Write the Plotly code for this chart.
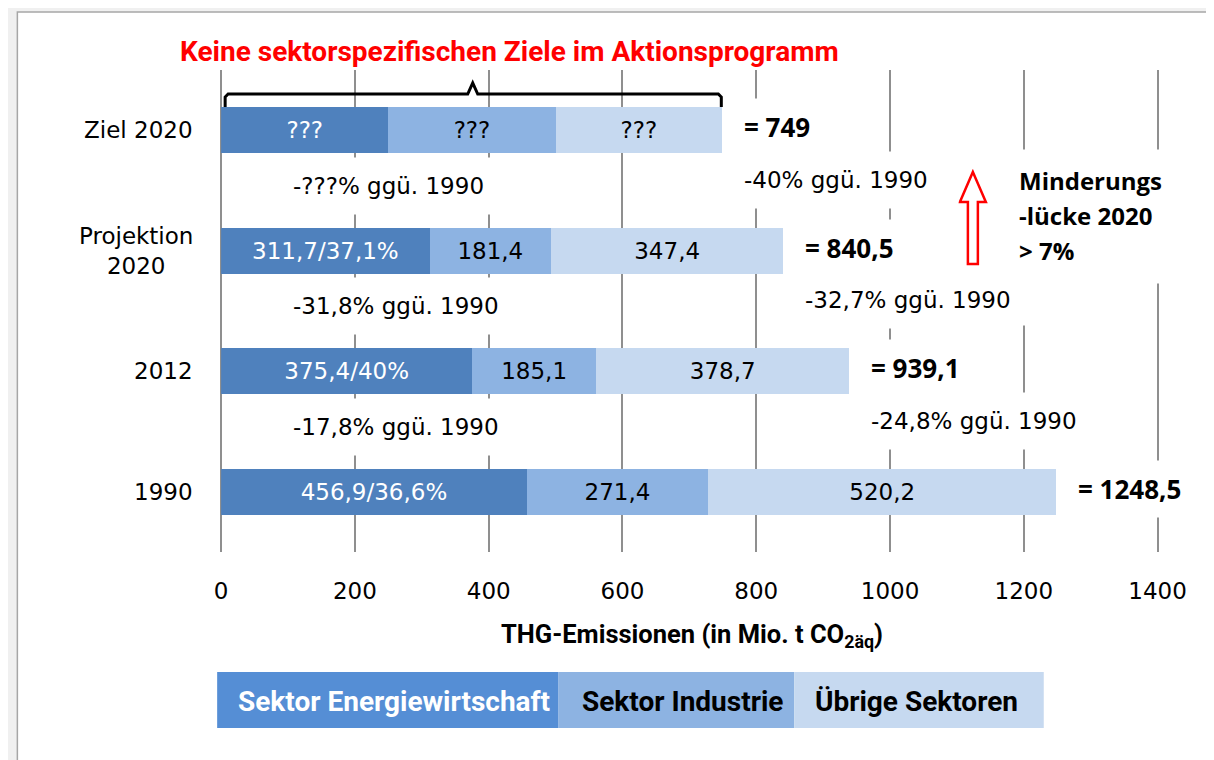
import plotly.graph_objects as go

# ---------------- data ----------------
categories = ["1990", "2012", "Projektion<br>2020", "Ziel 2020"]
energie = [456.9, 375.4, 311.7, 250.0]      # Ziel split unknown ("???"), estimated from bar
industrie = [271.4, 185.1, 181.4, 250.0]
uebrige = [520.2, 378.7, 347.4, 249.0]
totals = [1248.5, 939.1, 840.5, 749.0]
energie_share = [36.6, 40.0, 37.1, None]
change_total = [None, -24.8, -32.7, -40.0]      # total vs. 1990 (%)
change_energie = [None, -17.8, -31.8, None]     # energy sector vs. 1990 (%)
unknown_split = [False, False, False, True]
series_names = ["Sektor Energiewirtschaft", "Sektor Industrie", "Übrige Sektoren"]
x_ticks = [0, 200, 400, 600, 800, 1000, 1200, 1400]
title_text = "Keine sektorspezifischen Ziele im Aktionsprogramm"
gap_text = ["Minderungs", "-lücke 2020", "> 7%"]

# ---------------- style ----------------
W, H = 1214, 760
# the page renders the figure 1183 px wide, offset (15.5, 8) on screen
SW, SX0, SY0 = 1183.0, 15.5, 8.0
FONT = "DejaVu Sans"
FONT_B = "Open Sans"
FONT_C = "Roboto"
C_DARK, C_MID, C_LIGHT = "#4F81BD", "#8DB3E2", "#C6D9F0"
C_LEG_DARK = "#558ED5"
X_MAX = 1405.0                 # slightly past 1400 so the 1400 gridline is not clipped
PX_PER_UNIT = (1160 - 222) / 1400.0


def PX(x):
    return (x - SX0) / SW


def PY(y):
    return 1 - (y - SY0) / H


def de(v):
    s = f"{v:.1f}"
    if s.endswith(".0"):
        s = s[:-2]
    return s.replace(".", ",")


txt_e = ["???" if u else f"{de(v)}/{de(s)}%" for v, s, u in zip(energie, energie_share, unknown_split)]
txt_i = ["???" if u else de(v) for v, u in zip(industrie, unknown_split)]
txt_u = ["???" if u else de(v) for v, u in zip(uebrige, unknown_split)]

fig = go.Figure()
for vals, txt, col, tcol, name in [
    (energie, txt_e, C_DARK, "white", series_names[0]),
    (industrie, txt_i, C_MID, "black", series_names[1]),
    (uebrige, txt_u, C_LIGHT, "black", series_names[2]),
]:
    fig.add_trace(go.Bar(
        y=categories, x=vals, orientation="h", name=name,
        marker=dict(color=col, line=dict(width=0)),
        text=txt, textposition="inside", insidetextanchor="middle",
        textangle=0, constraintext="none",
        textfont=dict(family=FONT, size=23, color=tcol),
        width=0.385, showlegend=False, hoverinfo="skip",
    ))

ann = []
# white text-box area of the Minderungslücke note (interrupts the gridlines)
ann.append(dict(x=PX(1012), xref="paper", y=PY(149), yref="paper", text=" ", showarrow=False,
                xanchor="left", yanchor="top", width=173, height=133, bgcolor="white", borderpad=0))
ann.append(dict(x=PX(1012), xref="paper", y=PY(280), yref="paper", text=" ", showarrow=False,
                xanchor="left", yanchor="top", width=28, height=44, bgcolor="white", borderpad=0))

# category labels
for i, c in enumerate(categories):
    ann.append(dict(x=PX(196), xref="paper", y=i, yref="y", text=c, showarrow=False,
                    xanchor="right", align="center", font=dict(family=FONT, size=23, color="black")))

# totals
for i, t in enumerate(totals):
    ann.append(dict(x=t, xref="x", y=i, yref="y", text="= " + de(t), showarrow=False,
                    xanchor="left", xshift=21, yshift=3, align="left", valign="middle",
                    width=125, height=56, bgcolor="white", borderpad=0,
                    font=dict(family=FONT_B, size=26, color="black", weight="bold")))

# change vs 1990 (right: total, left: energy sector)
for i in range(1, len(categories)):
    ann.append(dict(x=totals[i], xref="x", y=i - 0.5, yref="y",
                    text=f"{de(change_total[i])}% ggü. 1990", showarrow=False,
                    xanchor="left", xshift=21, yshift=11, align="left", valign="middle",
                    width=214, height=56, bgcolor="white", borderpad=0,
                    font=dict(family=FONT, size=23, color="black")))
    ce = change_energie[i]
    ann.append(dict(x=PX(293), xref="paper", y=i - 0.5, yref="y",
                    text=("-???" if ce is None else de(ce)) + "% ggü. 1990", showarrow=False,
                    xanchor="left", yshift=5, align="left", valign="middle",
                    width=300, height=56, bgcolor="white", borderpad=0,
                    font=dict(family=FONT, size=23, color="black")))

# title
ann.append(dict(x=PX(511), xref="paper", y=PY(52), yref="paper", text=title_text, showarrow=False,
                xanchor="center", yanchor="middle",
                font=dict(family=FONT_C, size=28, color="#FF0000", weight="bold")))

# axis title
ann.append(dict(x=PX(694), xref="paper", y=PY(635), yref="paper",
                text="THG-Emissionen (in Mio. t CO<sub>2äq</sub>)", showarrow=False,
                xanchor="center", yanchor="middle",
                font=dict(family=FONT_C, size=25.5, color="black", weight="bold")))

# Minderungslücke text
for k, line in enumerate(gap_text):
    ann.append(dict(x=PX(1019), xref="paper", y=PY(180 + 35 * k), yref="paper", text=line,
                    showarrow=False, xanchor="left", yanchor="middle", align="left",
                    font=dict(family=FONT_B, size=24, color="black", weight="bold")))

shapes = []
# white panel
shapes.append(dict(type="rect", xref="paper", yref="paper", x0=0.002, x1=1.02, y0=-0.02, y1=PY(12),
                   fillcolor="white", line=dict(color="#A6A6A6", width=1.5), layer="below"))

# legend boxes
leg_bounds = [218, 560, 796, 1046]
leg_cols = [C_LEG_DARK, C_MID, C_LIGHT]
leg_tcols = ["white", "black", "black"]
leg_centers = [395, 684, 919]
for k in range(3):
    shapes.append(dict(type="rect", xref="paper", yref="paper",
                       x0=PX(leg_bounds[k]), x1=PX(leg_bounds[k + 1]), y0=PY(728), y1=PY(672),
                       fillcolor=leg_cols[k], line=dict(width=0), layer="above"))
    ann.append(dict(x=PX(leg_centers[k]), xref="paper", y=PY(701), yref="paper", text=series_names[k],
                    showarrow=False, xanchor="center", yanchor="middle",
                    font=dict(family=FONT_C, size=28, color=leg_tcols[k], weight="bold")))


def P(pts):
    return "M" + " L".join(f"{PX(x):.5f},{PY(y):.5f}" for x, y in pts)


# curly bracket over Ziel 2020
br = [(226, 107), (226, 97), (229, 94), (469, 94), (474, 83), (479, 94), (720, 94), (723, 97), (723, 107)]
shapes.append(dict(type="path", xref="paper", yref="paper", path=P(br),
                   line=dict(color="black", width=3), layer="above"))
# hollow red arrow
arrow = [(975, 172), (988, 202), (980, 202), (980, 264), (970, 264), (970, 202), (962, 202)]
shapes.append(dict(type="path", xref="paper", yref="paper", path=P(arrow) + " Z",
                   line=dict(color="#FF0000", width=2.5), fillcolor="white", layer="above"))

fig.update_layout(
    width=W, height=H, barmode="stack",
    paper_bgcolor="#F0F0F0", plot_bgcolor="rgba(0,0,0,0)",
    margin=dict(l=0, r=0, t=0, b=0),
    annotations=ann, shapes=shapes,
    xaxis=dict(domain=[PX(222), PX(222 + X_MAX * PX_PER_UNIT)], range=[0, X_MAX], tickvals=x_ticks,
               showgrid=True, gridcolor="#8F8F8F", gridwidth=1.6, zeroline=True,
               zerolinecolor="#8F8F8F", zerolinewidth=1.6, showline=False,
               ticks="outside", ticklen=18, tickcolor="rgba(0,0,0,0)",
               tickfont=dict(family=FONT, size=23, color="black"), fixedrange=True),
    yaxis=dict(domain=[PY(552), PY(70)], categoryorder="array", categoryarray=categories,
               showticklabels=False, showgrid=False, zeroline=False, fixedrange=True,
               range=[-0.5, 3.5]),
    font=dict(family=FONT, color="black"),
)

fig.write_html("out.html")
